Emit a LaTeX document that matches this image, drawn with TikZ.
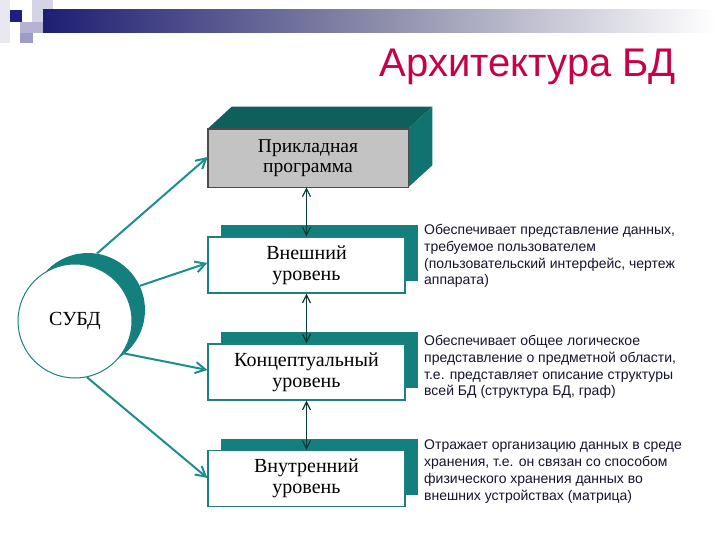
\documentclass[tikz,border=0pt]{standalone}
\usepackage{fontspec}
\setmainfont{Liberation Serif}
\newfontfamily\arialfont{Liberation Sans}
\usetikzlibrary{arrows.meta,calc}
\definecolor{tealS}{HTML}{13807D}
\definecolor{tealTop}{HTML}{0F5F5D}
\definecolor{tealSide}{HTML}{117370}
\definecolor{tealB}{HTML}{1E7F7D}
\definecolor{arrT}{HTML}{1C8E8C}
\definecolor{darkT}{HTML}{0C3A3A}
\definecolor{descC}{HTML}{15152E}
\definecolor{titleC}{HTML}{C8004A}
\definecolor{grayF}{HTML}{C3C3C3}
\begin{document}
\begin{tikzpicture}[x=1pt,y=-1pt,
  shadowbox/.style={draw=none, fill=tealS, minimum width=197pt, minimum height=56pt, inner sep=0pt},
  levelbox/.style={draw=tealB, line width=1.2pt, fill=white, minimum width=197pt, minimum height=56pt, inner sep=0pt, align=center, font=\fontsize{20}{21}\selectfont},
  appbox/.style={draw=black!70, line width=0.6pt, fill=grayF, minimum width=200pt, minimum height=58pt, inner sep=0pt, align=center, font=\fontsize{19.5}{20}\selectfont},
  descr/.style={anchor=north west, align=left, inner sep=0pt, text=descC, font=\arialfont\fontsize{14}{16.8}\selectfont},
  varr/.style={{Straight Barb[length=8pt,width=8pt]}-{Straight Barb[length=8pt,width=8pt]}, draw=darkT, line width=1.2pt},
  carr/.style={-{Straight Barb[length=10pt,width=11pt]}, draw=arrT, line width=2pt},
  circ/.style={circle, minimum size=114pt, inner sep=0pt}
]
\useasboundingbox (0,0) rectangle (720,540);
\fill[white] (0,0) rectangle (720,540);

% header decoration
\fill[color={rgb,255:red,232;green,232;blue,240}] (0,0) rectangle (10,43);
\fill[color={rgb,255:red,212;green,212;blue,230}] (32,0) rectangle (53,22);
\fill[color={rgb,255:red,180;green,180;blue,210}] (20,22) rectangle (43,33);
\fill[color={rgb,255:red,156;green,156;blue,198}] (20,33) rectangle (33,43);
\fill[color={rgb,255:red,30;green,30;blue,130}] (10,10) rectangle (22,22);
\fill[left color={rgb,255:red,30;green,30;blue,115}, right color=white, middle color={rgb,255:red,140;green,140;blue,170}] (43,10) rectangle (715,33);

% title
\node[anchor=base, text=titleC, font=\arialfont\fontsize{40}{44}\selectfont, inner sep=0pt] (title) at (528,77) {Архитектура БД};

% application box (3D)
\node[appbox] (app) at (308,158) {Прикладная\\программа};
\fill[tealTop] (app.north west) -- ++(24,-22) -- ($(app.north east)+(24,-22)$) -- (app.north east) -- cycle;
\fill[tealSide] (app.north east) -- ++(24,-22) -- ($(app.south east)+(24,-22)$) -- (app.south east) -- cycle;
\draw[black!70, line width=0.6pt] (app.north west) rectangle (app.south east);

% level boxes
\node[shadowbox] (extsh) at (319.5,253) {};
\node[levelbox] (ext) at (306.5,265) {Внешний\\уровень};
\node[shadowbox] (concsh) at (319.5,360) {};
\node[levelbox] (conc) at (306.5,372) {Концептуальный\\уровень};
\node[shadowbox] (intsh) at (319.5,466.5) {};
\node[levelbox] (int) at (306.5,478.5) {Внутренний\\уровень};

% vertical arrows
\draw[varr] (app.south -| ext.north) -- (ext.north);
\draw[varr] (ext.south) -- (conc.north);
\draw[varr] (conc.south) -- (int.north);

% DBMS circle
\node[circ, fill=tealS] (subdsh) at (88,310) {};
\node[circ, fill=white, draw=tealB, line width=1pt, font=\fontsize{20}{22}\selectfont] (subd) at (75,321) {СУБД};

% arrows from DBMS
\draw[carr] (subdsh.81) -- (app.west |- 0,157);
\draw[carr] (subdsh.25) -- (ext.west |- 0,263);
\draw[carr] (subd.-34) -- (conc.west |- 0,370);
\draw[carr] (subd.-78) -- (int.west |- 0,478);

% descriptions
\node[descr] (d1) at (424,224) {Обеспечивает представление данных,\\требуемое пользователем\\(пользовательский интерфейс, чертеж\\аппарата)};
\node[descr] (d2) at (424,335) {Обеспечивает общее логическое\\представление о предметной области,\\т.е. представляет описание структуры\\всей БД (структура БД, граф)};
\node[descr] (d3) at (424,440) {Отражает организацию данных в среде\\хранения, т.е. он связан со способом\\физического хранения данных во\\внешних устройствах (матрица)};
\end{tikzpicture}
\end{document}
